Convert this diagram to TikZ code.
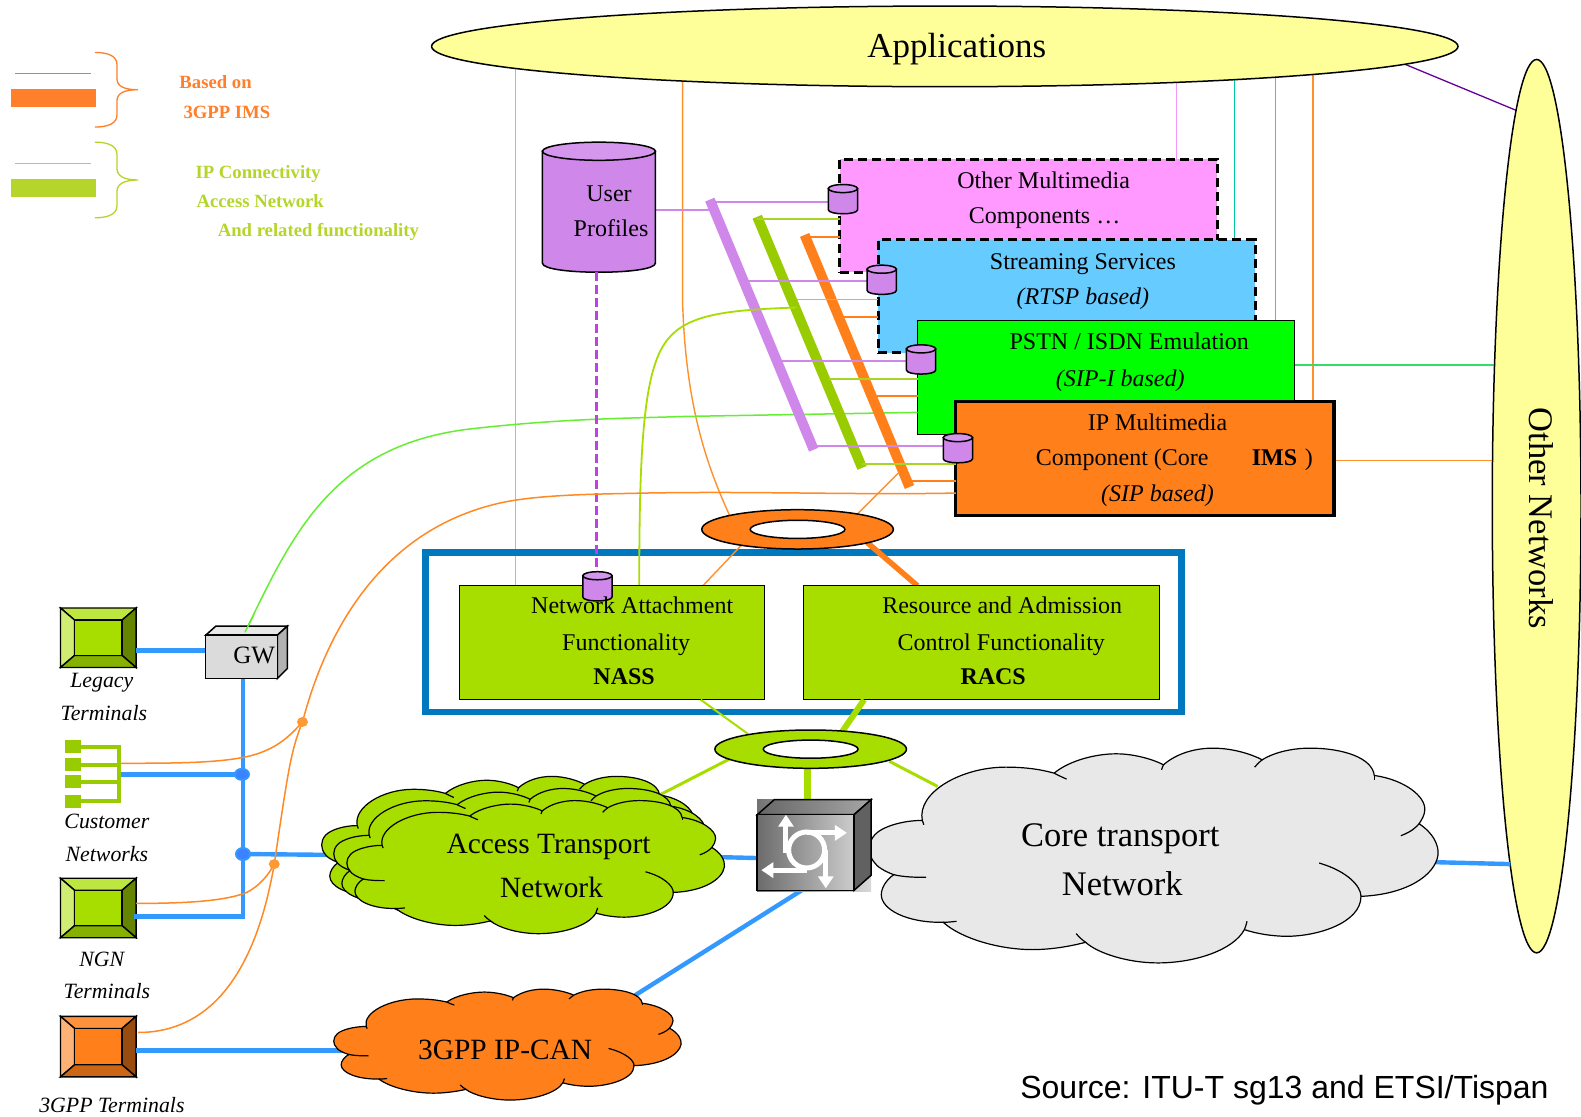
\documentclass[tikz,border=0pt]{standalone}
\usepackage{fontspec}
\setmainfont{Liberation Serif}
\newfontfamily\srcfont{Liberation Sans}
\usetikzlibrary{shapes.geometric,arrows.meta,calc}
\definecolor{appyel}{HTML}{FFFF99}
\definecolor{pinkbox}{HTML}{FF99FF}
\definecolor{skybox}{HTML}{66CCFF}
\definecolor{limebox}{HTML}{00FF00}
\definecolor{orbox}{HTML}{FF7F1A}
\definecolor{grn}{HTML}{A8DD00}
\definecolor{grnbar}{HTML}{99CC00}
\definecolor{legor}{HTML}{FF7F2A}
\definecolor{leggr}{HTML}{B5D52A}
\definecolor{purp}{HTML}{CF88EA}
\definecolor{netblue}{HTML}{3399FF}
\definecolor{frameblue}{HTML}{0078BE}
\definecolor{thinor}{HTML}{FF9933}
\definecolor{cloudgrey}{HTML}{E8E8E8}
\definecolor{dashpurp}{HTML}{C040E0}
\definecolor{curvelime}{HTML}{66EE33}
\definecolor{tealline}{HTML}{00C8A0}
\definecolor{greenline}{HTML}{33DD66}
\tikzset{
  x=1.00829pt,y=-1.00829pt,
  lab/.style={inner sep=0,outer sep=0,anchor=base,yshift=-#1*0.33pt,font=\fontsize{#1}{#1}\selectfont},
  labit/.style={inner sep=0,outer sep=0,anchor=base,yshift=-#1*0.33pt,font=\fontsize{#1}{#1}\selectfont\itshape},
  labbf/.style={inner sep=0,outer sep=0,anchor=base,yshift=-#1*0.33pt,font=\fontsize{#1}{#1}\selectfont\bfseries},
  legt/.style={inner sep=0,outer sep=0,anchor=base west,yshift=-6.2pt,font=\fontsize{18.7}{18.7}\selectfont\bfseries,text=#1},
  boxn/.style 2 args={rectangle,inner sep=0,outer sep=0,minimum width=#1*1.00829pt,minimum height=#2*1.00829pt},
  ell/.style 2 args={ellipse,inner sep=0,outer sep=0,minimum width=#1*2.01658pt,minimum height=#2*2.01658pt,draw=black,line width=1.5pt},
  blueln/.style={netblue,line width=4.4pt},
  thinln/.style={line width=1.3pt},
  thinorln/.style={thinor!70!orbox,line width=1.4pt},
  grnlink/.style={grn,line width=3pt},
  hline/.style={line width=1.8pt},
  sigln/.style={thinor!40!orbox,line width=1.5pt},
  curveg/.style={curvelime,line width=1.5pt},
}
% cylinder: name, centre x, top y, width, height, rim
\newcommand{\cylinderat}[6]{%
  \pgfmathsetmacro\cxa{#2-#4/2}\pgfmathsetmacro\cxb{#2+#4/2}%
  \pgfmathsetmacro\cya{#3+#6}\pgfmathsetmacro\cyb{#3+#5-#6}\pgfmathsetmacro\cyc{#3+#5+#6/3}%
  \draw[fill=purp,draw=black,line width=1.5pt] (\cxa,\cya) -- (\cxa,\cyb) .. controls (\cxa,\cyc) and (\cxb,\cyc) .. (\cxb,\cyb) -- (\cxb,\cya) -- cycle;
  \node[ell={#4/2}{#6},fill=purp!88!white] (#1) at (#2,\cya) {};
}
% terminal: name, x1,y1,x2,y2, centre,top,left,right,bottom
\newcommand{\terminalat}[9]{%
  \pgfmathsetmacro\ixa{#2+14}\pgfmathsetmacro\ixb{#4-14}\pgfmathsetmacro\iya{#3+12}\pgfmathsetmacro\iyb{#5-12}%
  \begin{scope}[draw=black,line width=1.4pt]
  \filldraw[fill=#7] (#2,#3) -- (#4,#3) -- (\ixb,\iya) -- (\ixa,\iya) -- cycle;
  \filldraw[fill=#8] (#2,#3) -- (\ixa,\iya) -- (\ixa,\iyb) -- (#2,#5) -- cycle;
  \filldraw[fill=#9] (#4,#3) -- (\ixb,\iya) -- (\ixb,\iyb) -- (#4,#5) -- cycle;
  \filldraw[fill=\termbottom] (#2,#5) -- (\ixa,\iyb) -- (\ixb,\iyb) -- (#4,#5) -- cycle;
  \filldraw[fill=#6] (\ixa,\iya) rectangle (\ixb,\iyb);
  \end{scope}
  \coordinate (#1) at (#4,{(#3+#5)/2});
}
% cloud: left,right,top,bottom,fill
\newcommand{\cloudat}[5]{%
  \pgfmathsetmacro\csx{(#2-#1)/1500}\pgfmathsetmacro\csy{(#4-#3)/645}%
  \pgfmathsetmacro\cox{#1-40*\csx}\pgfmathsetmacro\coy{#3-55*\csy}%
  \begin{scope}[shift={(\cox,\coy)},xscale=\csx,yscale=\csy,line width=1.2pt]
  \filldraw[fill=#5,draw=black]
   (180,272) .. controls (165,190) and (280,112) .. (400,112) .. controls (470,112) and (510,125) .. (527,130)
   .. controls (570,90) and (640,72) .. (690,72) .. controls (740,72) and (790,90) .. (815,105)
   .. controls (850,70) and (900,55) .. (945,55) .. controls (1000,55) and (1050,75) .. (1075,90)
   .. controls (1110,65) and (1160,55) .. (1200,55) .. controls (1290,55) and (1365,85) .. (1370,137)
   .. controls (1450,150) and (1505,200) .. (1503,240) .. controls (1503,255) and (1495,270) .. (1488,282)
   .. controls (1525,310) and (1540,345) .. (1538,375) .. controls (1530,440) and (1450,495) .. (1335,500)
   .. controls (1335,580) and (1220,620) .. (1140,620) .. controls (1100,620) and (1060,612) .. (1028,600)
   .. controls (1000,660) and (900,700) .. (800,700) .. controls (720,700) and (640,670) .. (610,638)
   .. controls (570,650) and (520,660) .. (470,660) .. controls (380,660) and (280,625) .. (235,578)
   .. controls (140,580) and (72,540) .. (72,495) .. controls (72,475) and (85,450) .. (105,435)
   .. controls (80,425) and (60,410) .. (55,400) .. controls (35,375) and (35,340) .. (55,315)
   .. controls (75,290) and (130,272) .. (180,272) -- cycle;
  \draw (560,148) .. controls (540,138) and (530,132) .. (527,130);
  \draw (810,120) .. controls (811,115) and (813,110) .. (815,105);
  \draw (1055,112) .. controls (1060,105) and (1067,97) .. (1075,90);
  \draw (1370,150) -- (1370,137);
  \draw (1440,318) .. controls (1470,305) and (1480,292) .. (1488,282);
  \draw (1225,400) .. controls (1300,425) and (1335,470) .. (1335,500);
  \draw (1035,575) .. controls (1033,585) and (1031,592) .. (1028,600);
  \draw (585,612) .. controls (595,625) and (600,630) .. (610,638);
  \draw (270,575) .. controls (255,577) and (245,578) .. (235,578);
  \draw (190,443) .. controls (160,443) and (130,442) .. (105,435);
  \draw (180,272) -- (184,285);
  \end{scope}
}
\begin{document}
\begin{tikzpicture}
\path[use as bounding box,fill=white] (0,0) rectangle (1568,1107);

% ---- lines from the applications
\coordinate (apL) at (511,68); \coordinate (naL) at (511,581);
\draw[leggr,thinln] (apL) -- (naL);
\coordinate (apO) at (677,80); \coordinate (riO) at (724,512);
\draw[thinorln] (apO) -- (677,300) .. controls (680,400) and (700,460) .. (riO);
\coordinate (apP) at (1167,80); \coordinate (omP) at (1167,158);
\draw[pinkbox!80!purp,thinln] (apP) -- (omP);
\coordinate (apT) at (1224,78); \coordinate (stT) at (1224,238);
\draw[tealline,thinln] (apT) -- (stT);
\coordinate (apG) at (1265,76); \coordinate (psG) at (1265,318);
\draw[greenline,thinln] (apG) -- (psG);
\coordinate (apR) at (1302,74); \coordinate (ipR) at (1302,398);
\draw[thinorln] (apR) -- (ipR);
\coordinate (apV) at (1394,64); \coordinate (onV) at (1505,110);
\draw[violet!80!blue,thinln] (apV) -- (onV);
\coordinate (psE) at (1284,362); \coordinate (onE) at (1482,362);
\draw[greenline,thinln] (psE) -- (onE);
\coordinate (ipE) at (1323,457); \coordinate (onF) at (1482,457);
\draw[thinorln] (ipE) -- (onF);

% ---- ellipses
\node[ell={509}{40},fill=appyel] (apps) at (937,46) {};
\node[ell={44}{443},fill=appyel] (others) at (1524,502) {};
\node[lab=35] (tapps) at (949,46) {Applications};
\node[inner sep=0,outer sep=0,anchor=center,rotate=-90,font=\fontsize{34.5}{34.5}\selectfont] (tothers) at (1529,514) {Other Networks};

% ---- legend
\coordinate (lo1) at (15,73); \coordinate (lo2) at (90,73);
\draw[legor!90!red,line width=1.4pt] (lo1) -- (lo2);
\node[boxn={84}{18},fill=legor] (lob) at (53,97) {};
\draw[legor,line width=1.3pt] (94,52) .. controls (108,52) and (116,56) .. (116,64) -- (116,78) .. controls (116,86) and (124,89) .. (137,89)
  .. controls (124,89) and (116,92) .. (116,100) -- (116,114) .. controls (116,122) and (108,126) .. (94,126);
\coordinate (lg1) at (15,162); \coordinate (lg2) at (90,162);
\draw[leggr,line width=1.4pt] (lg1) -- (lg2);
\node[boxn={84}{17},fill=leggr] (lgb) at (53,186.5) {};
\draw[leggr,line width=1.3pt] (94,141) .. controls (108,141) and (116,145) .. (116,153) -- (116,167) .. controls (116,175) and (124,178.5) .. (137,178.5)
  .. controls (124,178.5) and (116,182) .. (116,190) -- (116,204) .. controls (116,212) and (108,216) .. (94,216);
\node[legt=legor] (tl1) at (178,82) {Based on};
\node[legt=legor] (tl2) at (182,111) {3GPP IMS};
\node[legt=leggr] (tl3) at (194,171) {IP Connectivity};
\node[legt=leggr] (tl4) at (195,200) {Access Network};
\node[legt=leggr] (tl5) at (216,228) {And related functionality};

% ---- service boxes
\node[boxn={374}{112},fill=pinkbox,draw=black,line width=3pt,dash pattern=on 9pt off 5pt] (other) at (1020,214) {};
\node[boxn={374}{112},fill=skybox,draw=black,line width=3pt,dash pattern=on 9pt off 5pt] (stream) at (1058,294) {};
\node[boxn={374}{113},fill=limebox,draw=black,line width=1.6pt] (pstn) at (1097,374.5) {};

% ---- long curves
\coordinate (gwG) at (243,627);
\coordinate (psC) at (910,409);
\draw[curveg] (gwG) .. controls (290,530) and (330,440) .. (470,425) .. controls (560,415) and (620,415) .. (680,413) -- (psC);

\node[boxn={375}{113},fill=orbox,draw=black,line width=3.2pt] (ims) at (1135.5,454.5) {};

\coordinate (t3O) at (137,1024); \coordinate (ipC) at (948,489);
\coordinate (dotA) at (300,716); \coordinate (dotB) at (272,857);

% ---- slanted bars and their feeders
\coordinate (upR) at (650,208); \coordinate (pbR) at (708,208);
\draw[purp,hline] (upR) -- (pbR);
\coordinate (a1) at (704,200); \coordinate (b1) at (822,200);
\coordinate (a2) at (742,279); \coordinate (b2) at (860,279);
\coordinate (a3) at (775,358); \coordinate (b3) at (899,358);
\coordinate (a4) at (807,442); \coordinate (b4) at (937,442);
\coordinate (c1) at (751,217); \coordinate (d1) at (833,217);
\coordinate (c2) at (790,297); \coordinate (d2) at (871,297);
\coordinate (c3) at (822,376); \coordinate (d3) at (910,376);
\coordinate (c4) at (855,460); \coordinate (d4) at (948,460);
\coordinate (e1) at (800,235); \coordinate (f1) at (833,235);
\coordinate (e2) at (835,314); \coordinate (f2) at (871,314);
\coordinate (e3) at (870,393); \coordinate (f3) at (910,393);
\coordinate (e4) at (900,477); \coordinate (f4) at (948,477);
\coordinate (pbT) at (704,198); \coordinate (pbB) at (807,446);
\coordinate (gbT) at (751,215); \coordinate (gbB) at (855,464);
\coordinate (obT) at (798,233); \coordinate (obB) at (902,483);
\draw[purp,line width=10pt] (pbT) -- (pbB);
\draw[grnbar,line width=10pt] (gbT) -- (gbB);
\draw[orbox,line width=10pt] (obT) -- (obB);
\foreach \p/\q in {a1/b1,a2/b2,a3/b3,a4/b4} \draw[purp,hline] (\p) -- (\q);
\foreach \p/\q in {c1/d1,c2/d2,c3/d3,c4/d4} \draw[grnbar!85!white,hline] (\p) -- (\q);
\foreach \p/\q in {e1/f1,e2/f2,e3/f3,e4/f4} \draw[orbox,hline] (\p) -- (\q);

% ---- text in service boxes
\node[lab=24] (to1) at (1035,179) {Other Multimedia};
\node[lab=24] (to2) at (1036,214) {Components …};
\node[lab=24] (ts1) at (1074,259) {Streaming Services};
\node[labit=24] (ts2) at (1074,294) {(RTSP based)};
\node[lab=24] (tp1) at (1120,339) {PSTN / ISDN Emulation};
\node[labit=24] (tp2) at (1111,375) {(SIP-I based)};
\node[lab=24] (ti1) at (1148,419) {IP Multimedia};
\node[lab=24] (ti2) at (1113,454) {Component (Core};
\node[labbf=24] (ti3) at (1264,454) {IMS};
\node[lab=24] (ti4) at (1298,454) {)};
\node[labit=24] (ti5) at (1148,490) {(SIP based)};

% ---- cylinders
\cylinderat{cy1}{836}{183}{29}{29}{4}
\cylinderat{cy2}{874.5}{263}{29}{29}{4}
\cylinderat{cy3}{913.5}{342}{29}{29}{4}
\cylinderat{cy4}{950}{430}{29}{29}{4}
\cylinderat{prof}{594}{141}{112}{129}{9}
\node[lab=24] (tu1) at (604,192) {User};
\node[lab=24] (tu2) at (606,227) {Profiles};

% ---- control frame and its links
\node[boxn={750}{158},draw=frameblue,line width=6.5pt] (frame) at (797,627) {};
\coordinate (riA) at (735,541); \coordinate (naA) at (697,581);
\draw[thinorln] (riA) -- (naA);
\coordinate (riB) at (850,510); \coordinate (obC) at (892,468);
\draw[thinorln] (riB) -- (obC);
\coordinate (riC) at (860,538); \coordinate (raC) at (910,581);
\draw[orbox,line width=5.5pt] (riC) -- (raC);
\coordinate (naG) at (634,581); \coordinate (gbC) at (790,305);
\draw[grn,line width=1.8pt] (naG) .. controls (634,480) and (636,400) .. (650,360) .. controls (665,315) and (700,308) .. (gbC);
\coordinate (prB) at (592,270); \coordinate (naD) at (592,570);
\draw[dashpurp,line width=3pt,dash pattern=on 9pt off 4pt] (prB) -- (naD);

\node[boxn={302}{113},fill=grn,draw=black,line width=1.3pt] (nass) at (607,637.5) {};
\node[boxn={353}{113},fill=grn,draw=black,line width=1.3pt] (racs) at (973.5,637.5) {};
\cylinderat{cy5}{592.5}{567}{29}{29}{4}
\node[lab=24] (tn1) at (627,601) {Network Attachment};
\node[lab=24] (tn2) at (621,637) {Functionality};
\node[labbf=24] (tn3) at (619,671) {NASS};
\node[lab=24] (tr1) at (994,601) {Resource and Admission};
\node[lab=24] (tr2) at (993,637) {Control Functionality};
\node[labbf=24] (tr3) at (985,671) {RACS};

% ---- rings
\node[ell={95}{19.5},fill=orbox] (ringo) at (791,525) {};
\node[ell={47}{9},fill=white] (ringoh) at (791,525) {};

\coordinate (naH) at (695,694); \coordinate (rgA) at (742,728);
\draw[grn,line width=2pt] (naH) -- (rgA);
\coordinate (raH) at (857,694); \coordinate (rgB) at (835,726);
\draw[grn,line width=6pt] (raH) -- (rgB);
\coordinate (rgC) at (723,753); \coordinate (acC) at (655,788);
\draw[grnlink] (rgC) -- (acC);
\coordinate (rgD) at (882,755); \coordinate (coD) at (930,780);
\draw[grnlink] (rgD) -- (coD);
\coordinate (rgE) at (801,762); \coordinate (swE) at (801,795);
\draw[grn,line width=7pt] (rgE) -- (swE);
\node[ell={95}{19},fill=grn] (ringg) at (804,743) {};
\node[ell={47}{9},fill=white] (ringgh) at (804,743) {};

% ---- network links
\coordinate (coR) at (1420,855); \coordinate (onR) at (1498,857);
\draw[blueln] (coR) -- (onR);
\coordinate (acR) at (710,850); \coordinate (swL) at (752,851);
\draw[blueln] (acR) -- (swL);
\coordinate (caR) at (630,987); \coordinate (swB) at (795,883);
\draw[blueln] (caR) -- (swB);
\coordinate (acL) at (345,848); \coordinate (jB) at (241,847);
\draw[blueln] (jB) -- (acL);
\coordinate (caL) at (345,1042);

% ---- clouds
\cloudat{862}{1427}{742}{955}{cloudgrey}
\cloudat{319}{697}{770}{915}{grn}
\cloudat{331}{708}{782}{920}{grn}
\cloudat{344}{719}{794}{926}{grn}
\node[lab=34.5] (tc1) at (1111,828) {Core transport};
\node[lab=34.5] (tc2) at (1113,877) {Network};
\node[lab=29.4] (ta1) at (544,837) {Access Transport};
\node[lab=29.4] (ta2) at (547,880) {Network};

% ---- router
\shade[left color=black!55,right color=black!15] (751,793) rectangle (864,884);
\draw[black,line width=1.5pt,left color=black!60,right color=black!35] (751,808) -- (768,793) -- (864,793) -- (847,808) -- cycle;
\draw[black,line width=1.5pt,fill=black!62] (847,808) -- (864,793) -- (864,868) -- (847,883) -- cycle;
\draw[black,line width=1.5pt,left color=black!58,right color=black!20] (751,808) rectangle (847,883);
\node[circle,draw=white,line width=5pt,inner sep=0,outer sep=0,minimum size=36pt] (swc) at (800,843) {};
\coordinate (w1) at (779.5,846); \coordinate (w2) at (779.5,808);
\coordinate (w3) at (800,826); \coordinate (w4) at (840,826);
\coordinate (w5) at (800,863); \coordinate (w6) at (755,863);
\coordinate (w7) at (819,843); \coordinate (w8) at (819,881);
\foreach \p/\q in {w1/w2,w3/w4,w5/w6,w7/w8}
  \draw[white,line width=5pt,-{Triangle[width=15pt,length=12pt]}] (\p) -- (\q);

% ---- terminals and access side
\def\termbottom{grn!80!black}
\terminalat{tleg}{60}{603}{135}{662}{grn}{grn!75!white}{grn!55!white}{grn!60!black}
\terminalat{tngn}{60}{871}{135}{930}{grn}{grn!75!white}{grn!55!white}{grn!60!black}
\def\termbottom{orbox!80!black}
\terminalat{t3g}{60}{1008}{135}{1068}{orbox}{orbox!85!white}{orbox!60!white}{orbox!60!black}

\coordinate (gwL) at (204,645);
\draw[blueln] (tleg |- gwL) -- (gwL);
\draw[blueln] (t3g |- caL) -- (caL);
\cloudat{331}{676}{981}{1091}{orbox}
\node[lab=29.4] (tg1) at (501,1041) {3GPP IP-CAN};

% gateway
\coordinate (gwB) at (241,673); \coordinate (vbB) at (241,909);
\coordinate (ngnL) at (135,909);
\draw[blueln,line cap=rect] (gwB) -- (vbB) -- (ngnL);
\coordinate (cuR) at (120,768); \coordinate (jA) at (240,768);
\draw[blueln] (cuR) -- (jA);
\draw[black,line width=1.5pt,fill=black!9] (204,630) -- (214,621) -- (285,621) -- (275,630) -- cycle;
\draw[black,line width=1.5pt,fill=black!30] (275,630) -- (285,621) -- (285,663) -- (275,673) -- cycle;
\node[boxn={71}{43},fill=black!14,draw=black,line width=1.5pt] (gw) at (239.5,651.5) {};
\node[lab=25] (tgw) at (252,650) {GW};
\coordinate (gwH) at (252,609);
\draw[curveg] (gwG) -- (gwH);

% orange signalling curves
\draw[sigln] (t3O) .. controls (195,1024) and (250,985) .. (dotB) .. controls (285,770) and (288,745) .. (dotA) .. controls (320,640) and (370,525) .. (500,498) .. controls (540,490) and (600,490) .. (640,489) .. controls (750,487) and (850,491) .. (ipC);
\coordinate (cuO) at (120,757);
\draw[sigln] (cuO) .. controls (180,757) and (235,757) .. (262,745) .. controls (280,738) and (292,725) .. (dotA);
\coordinate (ngO) at (135,896);
\draw[sigln] (ngO) .. controls (190,896) and (225,893) .. (245,885) .. controls (258,878) and (266,868) .. (dotB);
\node[ellipse,fill=thinor,inner sep=0,outer sep=0,minimum width=11pt,minimum height=10pt] (nda) at (dotA) {};
\node[ellipse,fill=thinor,inner sep=0,outer sep=0,minimum width=11pt,minimum height=10pt] (ndb) at (dotB) {};
\node[ellipse,fill=netblue!75!blue!90!white,draw=netblue,line width=2pt,inner sep=0,outer sep=0,minimum width=14pt,minimum height=11pt] (nja) at (jA) {};
\node[ellipse,fill=netblue!75!blue!90!white,draw=netblue,line width=2pt,inner sep=0,outer sep=0,minimum width=14pt,minimum height=12pt] (njb) at (jB) {};

% customer networks icon
\foreach \n/\yy in {ca/734,cb/752,cc/769,cd/788} {
  \node[boxn={16}{13},fill=grnbar,anchor=north west] (\n) at (64.5,\yy) {};
}
\coordinate (rk) at (118,741);
\draw[grnbar,line width=4pt] (ca.east) -- (ca.east -| rk) -- (cd.east -| rk) -- (cd.east);
\draw[grnbar,line width=4pt] (cb.east) -- (cb.east -| rk);
\draw[grnbar,line width=4pt] (cc.east) -- (cc.east -| rk);

% terminal labels
\node[labit=21.8] (l1) at (101,675) {Legacy};
\node[labit=21.8] (l2) at (103,707) {Terminals};
\node[labit=21.8] (l3) at (106,815) {Customer};
\node[labit=21.8] (l4) at (106,847) {Networks};
\node[labit=21.8] (l5) at (101,951) {NGN};
\node[labit=21.8] (l6) at (106,983) {Terminals};
\node[labit=21.8] (l7) at (111,1096) {3GPP Terminals};
\node[inner sep=0,anchor=base east,yshift=-11.5pt,font=\fontsize{32}{32}\selectfont\srcfont] (src) at (1536,1078) {Source: ITU-T sg13 and ETSI/Tispan};
\end{tikzpicture}
\end{document}
